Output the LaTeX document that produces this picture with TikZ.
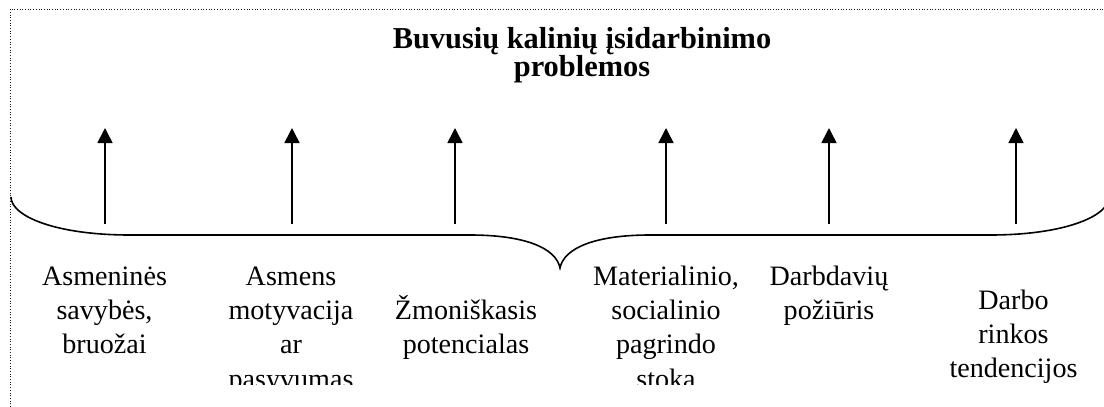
\documentclass[tikz,border=0pt]{standalone}
\usepackage{fontspec}
\setmainfont{Liberation Serif}
\usetikzlibrary{arrows.meta}
\begin{document}
\begin{tikzpicture}[x=1pt,y=-1pt,
  frame/.style={line width=1pt, dash pattern=on 1pt off 1.7pt, color=black!90},
  bracestyle/.style={line width=1.6pt},
  upar/.style={line width=1.6pt, -{Triangle[length=15pt,width=15pt]}},
  lbl/.style={inner sep=0pt, anchor=north, align=center, font=\fontsize{28.1}{34.3}\selectfont},
  ttl/.style={inner sep=0pt, anchor=north, align=center, font=\fontsize{30.4}{26}\selectfont\bfseries}]
\clip (0,0) rectangle (1104,407);
% dotted frame
\draw[frame] (10,407) -- (10,9) -- (1110,9);
% title
\node[ttl] (title) at (582,48-30.4) {\rule{0pt}{30.4pt}Buvusių kalinių įsidarbinimo\\problemos};
% brace
\draw[bracestyle] (11,197) .. controls (11,216) and (55,235) .. (130,235) -- (470,235)
  .. controls (525,235) and (556,248) .. (560,268)
  .. controls (564,248) and (595,235) .. (650,235) -- (990,235)
  .. controls (1065,235) and (1109,216) .. (1109,197);
% arrows
\foreach \i/\x in {1/105,2/292,3/455,4/666,5/829,6/1016}{
  \coordinate (b\i) at (\x,223.5);
  \coordinate (t\i) at (\x,128);
  \draw[upar] (b\i) -- (t\i);
}
% labels
\node[lbl] (l1) at (104.5,285-28.1) {\rule{0pt}{28.1pt}Asmeninės\\savybės,\\bruožai};
\begin{scope}
  \clip (200,250) rectangle (390,384);
  \node[lbl] (l2) at (291,285-28.1) {\rule{0pt}{28.1pt}Asmens\\motyvacija\\ar\\pasyvumas};
\end{scope}
\node[lbl] (l3) at (466,319.3-28.1) {\rule{0pt}{28.1pt}Žmoniškasis\\potencialas};
\begin{scope}
  \clip (580,250) rectangle (760,384);
  \node[lbl] (l4) at (666,285-28.1) {\rule{0pt}{28.1pt}Materialinio,\\socialinio\\pagrindo\\stoka};
\end{scope}
\node[lbl] (l5) at (829,285-28.1) {\rule{0pt}{28.1pt}Darbdavių\\požiūris};
\node[lbl] (l6) at (1013.5,309-28.1) {\rule{0pt}{28.1pt}Darbo\\rinkos\\tendencijos};
\end{tikzpicture}
\end{document}
